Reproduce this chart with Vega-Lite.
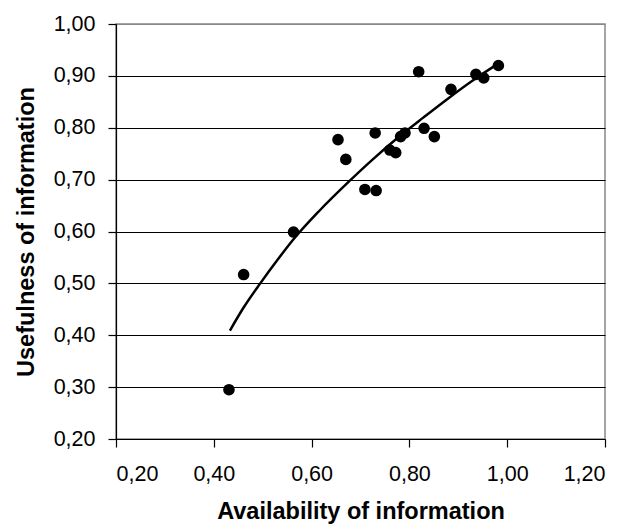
{
  "$schema": "https://vega.github.io/schema/vega-lite/v6.json",
  "width": 489,
  "height": 415,
  "autosize": {"type": "none"},
  "padding": {"left": 116, "top": 24, "right": 27, "bottom": 88},
  "background": "white",
  "config": {
    "locale": {"number": {"decimal": ",", "thousands": ".", "grouping": [3], "currency": ["", " €"]}},
    "font": "Liberation Sans",
    "view": {"stroke": "#888888", "strokeWidth": 1.5}
  },
  "datasets": {
    "points": [
      {"availability": 0.431, "usefulness": 0.295},
      {"availability": 0.461, "usefulness": 0.517},
      {"availability": 0.563, "usefulness": 0.599},
      {"availability": 0.654, "usefulness": 0.777},
      {"availability": 0.670, "usefulness": 0.739},
      {"availability": 0.709, "usefulness": 0.681},
      {"availability": 0.732, "usefulness": 0.679},
      {"availability": 0.730, "usefulness": 0.790},
      {"availability": 0.760, "usefulness": 0.757},
      {"availability": 0.772, "usefulness": 0.752},
      {"availability": 0.782, "usefulness": 0.783},
      {"availability": 0.791, "usefulness": 0.790},
      {"availability": 0.819, "usefulness": 0.908},
      {"availability": 0.830, "usefulness": 0.799},
      {"availability": 0.851, "usefulness": 0.783},
      {"availability": 0.885, "usefulness": 0.874},
      {"availability": 0.936, "usefulness": 0.903},
      {"availability": 0.952, "usefulness": 0.896},
      {"availability": 0.982, "usefulness": 0.920}
    ],
    "trend": [
      {"availability": 0.433, "usefulness": 0.409},
      {"availability": 0.460, "usefulness": 0.452},
      {"availability": 0.495, "usefulness": 0.500},
      {"availability": 0.530, "usefulness": 0.545},
      {"availability": 0.563, "usefulness": 0.585},
      {"availability": 0.616, "usefulness": 0.640},
      {"availability": 0.675, "usefulness": 0.695},
      {"availability": 0.724, "usefulness": 0.738},
      {"availability": 0.778, "usefulness": 0.782},
      {"availability": 0.829, "usefulness": 0.820},
      {"availability": 0.880, "usefulness": 0.857},
      {"availability": 0.931, "usefulness": 0.892},
      {"availability": 0.984, "usefulness": 0.925}
    ]
  },
  "layer": [
    {
      "data": {"name": "trend"},
      "mark": {"type": "line", "color": "black", "strokeWidth": 2.5, "interpolate": "monotone"},
      "encoding": {
        "x": {
          "field": "availability", "type": "quantitative",
          "scale": {"domain": [0.2, 1.2], "nice": false, "zero": false},
          "axis": {
            "title": "Availability of information",
            "values": [0.2, 0.4, 0.6, 0.8, 1.0, 1.2],
            "format": ".2f",
            "grid": false,
            "labelFont": "Liberation Sans",
            "labelFontSize": 21.5,
            "labelColor": "black",
            "titleFont": "Liberation Sans",
            "titleFontSize": 23.5,
            "titleFontWeight": "bold",
            "titleColor": "black",
            "domainColor": "black",
            "domainWidth": 1.2,
            "tickColor": "black",
            "tickWidth": 1.2,
            "tickSize": 8,
            "labelPadding": 16,
            "titlePadding": 15
          }
        },
        "y": {
          "field": "usefulness", "type": "quantitative",
          "scale": {"domain": [0.2, 1.0], "nice": false, "zero": false},
          "axis": {
            "title": "Usefulness of information",
            "values": [0.2, 0.3, 0.4, 0.5, 0.6, 0.7, 0.8, 0.9, 1.0],
            "format": ".2f",
            "grid": true,
            "gridColor": {"condition": {"test": "datum.value >= 1", "value": "#888888"}, "value": "black"},
            "gridWidth": 1.2,
            "labelFont": "Liberation Sans",
            "labelFontSize": 21.5,
            "labelColor": "black",
            "titleFont": "Liberation Sans",
            "titleFontSize": 23.5,
            "titleFontWeight": "bold",
            "titleColor": "black",
            "domainColor": "black",
            "domainWidth": 1.2,
            "tickColor": "black",
            "tickWidth": 1.2,
            "tickSize": 8,
            "labelPadding": 13,
            "titlePadding": 15
          }
        }
      }
    },
    {
      "data": {"name": "points"},
      "mark": {"type": "circle", "color": "black", "opacity": 1, "size": 135},
      "encoding": {
        "x": {"field": "availability", "type": "quantitative"},
        "y": {"field": "usefulness", "type": "quantitative"}
      }
    }
  ]
}
